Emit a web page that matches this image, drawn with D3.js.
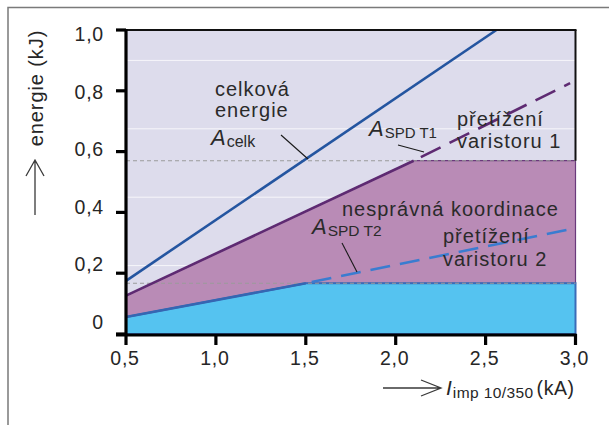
<!DOCTYPE html>
<html>
<head>
<meta charset="utf-8">
<script src="https://cdn.jsdelivr.net/npm/d3@7"></script>
<style>
  html, body { margin: 0; padding: 0; background: #fff; }
  svg { display: block; font-family: "Liberation Sans", Arial, Helvetica, sans-serif; }
</style>
</head>
<body>
<svg id="chart" width="609" height="425"></svg>
<script>
// Axis ticks and labels
const xTicks = [0.5, 1.0, 1.5, 2.0, 2.5, 3.0];
const xTickLabels = ["0,5", "1,0", "1,5", "2,0", "2,5", "3,0"];
const yTicks = [0, 0.2, 0.4, 0.6, 0.8, 1.0];
const yTickLabels = ["0", "0,2", "0,4", "0,6", "0,8", "1,0"];
const gridLevels = [0.225, 0.45, 0.675, 0.9];

// Total energy A_celk (kJ) over impulse current (kA)
const totalI = [0.5, 2.56];
const totalA = [0.175, 1.0];

// Energy absorbed by SPD T1 (capped by varistor 1 rating)
const spdT1I = [0.5, 2.1, 3.0];
const spdT1A = [0.126, 0.57, 0.57];
const overload1I = [2.1, 2.97];
const overload1A = [0.57, 0.825];

// Energy absorbed by SPD T2 (capped by varistor 2 rating)
const spdT2I = [0.5, 1.5, 3.0];
const spdT2A = [0.056, 0.167, 0.167];
const overload2I = [1.5, 3.0];
const overload2A = [0.167, 0.348];

// Varistor energy limits
const limitLevels = [0.167, 0.57];

const pts = (xs, ys) => xs.map((v, i) => [v, ys[i]]);

const svg = d3.select("#chart");
const x = d3.scaleLinear().domain([0.5, 3.0]).range([126, 575.5]);
const y = d3.scaleLinear().domain([0, 1]).range([334, 30]);
const labelY = d3.scaleLinear().domain([0, 1]).range([y(0) - 12, y(1) + 4]);

const line = d3.line().x(d => x(d[0])).y(d => y(d[1]));

// outer frame
svg.append("path")
  .attr("d", "M8,425 L8,7.5 L609,7.5")
  .attr("fill", "none").attr("stroke", "#7a7a7a").attr("stroke-width", 1.5);

// plot background
svg.append("rect")
  .attr("x", x(0.5)).attr("y", y(1))
  .attr("width", x(3.0) - x(0.5)).attr("height", y(0) - y(1))
  .attr("fill", "#dddcec");

// faint grid
svg.append("g").selectAll("line").data(gridLevels).join("line")
  .attr("x1", x(0.5) - 2).attr("x2", x(3.0) + 3)
  .attr("y1", d => y(d)).attr("y2", d => y(d))
  .attr("stroke", "#ffffff").attr("stroke-opacity", 0.75).attr("stroke-width", 1);

// SPD T1 region (between T2 curve and T1 curve)
const t1Poly = pts(spdT1I, spdT1A).concat(pts(spdT2I, spdT2A).reverse());
svg.append("path")
  .attr("d", line(t1Poly) + "Z")
  .attr("fill", "#b98bb6").attr("stroke", "#6a3a7c").attr("stroke-width", 1.2);

// SPD T2 region
const t2Poly = pts(spdT2I, spdT2A).concat([[3.0, 0], [0.5, 0]]);
svg.append("path")
  .attr("d", line(t2Poly) + "Z")
  .attr("fill", "#55c3f0").attr("stroke", "#3a6cb8").attr("stroke-width", 2);

// limit levels
svg.append("g").selectAll("line").data(limitLevels).join("line")
  .attr("x1", x(0.5)).attr("x2", x(3.0))
  .attr("y1", d => y(d)).attr("y2", d => y(d))
  .attr("stroke", "#9a9a9a").attr("stroke-width", 1.1).attr("stroke-dasharray", "4,3");

// rising part of the SPD curves
svg.append("path").attr("d", line(pts(spdT1I, spdT1A).slice(0, 2)))
  .attr("fill", "none").attr("stroke", "#5e2a72").attr("stroke-width", 2.6);
svg.append("path").attr("d", line(pts(spdT2I, spdT2A).slice(0, 2)))
  .attr("fill", "none").attr("stroke", "#3566b2").attr("stroke-width", 2.6);

// overload extensions
svg.append("path").attr("d", line(pts(overload1I, overload1A)))
  .attr("fill", "none").attr("stroke", "#5e2a72").attr("stroke-width", 2.6)
  .attr("stroke-dasharray", "22,10").attr("stroke-dashoffset", -8);
svg.append("path").attr("d", line(pts(overload2I, overload2A)))
  .attr("fill", "none").attr("stroke", "#3a7cd0").attr("stroke-width", 2.6)
  .attr("stroke-dasharray", "20,10").attr("stroke-dashoffset", -6);

// total energy
svg.append("path").attr("d", line(pts(totalI, totalA)))
  .attr("fill", "none").attr("stroke", "#2455a0").attr("stroke-width", 2.6);

// frame: top and right
svg.append("line").attr("x1", x(0.5)).attr("x2", x(3.0) + 1).attr("y1", y(1)).attr("y2", y(1))
  .attr("stroke", "#111").attr("stroke-width", 2);
svg.append("line").attr("x1", x(3.0)).attr("x2", x(3.0)).attr("y1", y(1)).attr("y2", y(0.57))
  .attr("stroke", "#111").attr("stroke-width", 2);

// axes
const axisG = svg.append("g");
axisG.append("line").attr("x1", x(0.5)).attr("x2", x(0.5)).attr("y1", y(1) - 1).attr("y2", y(0) + 2)
  .attr("stroke", "#000").attr("stroke-width", 3.2);
axisG.append("line").attr("x1", x(0.5) - 10).attr("x2", x(3.0) + 1).attr("y1", y(0) + 1).attr("y2", y(0) + 1)
  .attr("stroke", "#000").attr("stroke-width", 3.2);
axisG.selectAll(".yt").data(yTicks).join("line").attr("class", "yt")
  .attr("x1", x(0.5) - 10).attr("x2", x(0.5))
  .attr("y1", d => y(d)).attr("y2", d => y(d))
  .attr("stroke", "#000").attr("stroke-width", 3.2);
axisG.selectAll(".xt").data(xTicks).join("line").attr("class", "xt")
  .attr("x1", d => x(d)).attr("x2", d => x(d))
  .attr("y1", y(0)).attr("y2", y(0) + 11)
  .attr("stroke", "#000").attr("stroke-width", 3.2);

const tickFont = { size: "19.5px", ls: "0.8px", fill: "#262626" };
axisG.selectAll(".yl").data(yTicks).join("text").attr("class", "yl")
  .attr("x", 104).attr("y", d => labelY(d) + 7)
  .attr("text-anchor", "end")
  .attr("font-size", tickFont.size).attr("letter-spacing", tickFont.ls).attr("fill", tickFont.fill)
  .text((d, i) => yTickLabels[i]);
axisG.selectAll(".xl").data(xTicks).join("text").attr("class", "xl")
  .attr("x", d => x(d) - 1).attr("y", 365)
  .attr("text-anchor", "middle")
  .attr("font-size", tickFont.size).attr("letter-spacing", tickFont.ls).attr("fill", tickFont.fill)
  .text((d, i) => xTickLabels[i]);

// axis titles with arrows
const arrowStyle = s => s.attr("fill", "none").attr("stroke", "#3a3a3a").attr("stroke-width", 1.3);
svg.append("path").attr("d", "M35,215 L35,160 M26,176 L35,160 L44,176").call(arrowStyle);
svg.append("text")
  .attr("transform", "translate(43,88) rotate(-90)")
  .attr("text-anchor", "middle").attr("font-size", "20px").attr("letter-spacing", "0.9px").attr("fill", "#262626")
  .text("energie (kJ)");

svg.append("path").attr("d", "M383,388 L441,388 M421,380 L441,388 L421,396").call(arrowStyle);
const xt = svg.append("text").attr("x", 446).attr("y", 395).attr("fill", "#262626").attr("font-size", "21px");
xt.append("tspan").attr("font-style", "italic").text("I");
xt.append("tspan").attr("font-size", "15.5px").attr("dy", 3).attr("dx", 1).attr("letter-spacing", "0.4px").text("imp 10/350");
xt.append("tspan").attr("dy", -3).attr("dx", 3).attr("font-size", "19.5px").attr("letter-spacing", "0.6px").text("(kA)");

// annotations
const ann = svg.append("g").attr("fill", "#2a2a2a").attr("font-size", "20px").attr("letter-spacing", "1px");
const addText = (tx, ty, s) => ann.append("text").attr("x", tx).attr("y", ty).text(s);
const addA = (tx, ty, sub, subSize) => {
  const t = ann.append("text").attr("x", tx).attr("y", ty).attr("letter-spacing", "0px");
  t.append("tspan").attr("font-style", "italic").attr("font-size", "22px").text("A");
  t.append("tspan").attr("font-size", subSize).attr("dy", 2).attr("dx", 1).text(sub);
};

addText(215, 96, "celková");
addText(215, 117, "energie");
addA(211, 145, "celk", "16px");

addA(369, 136, "SPD T1", "15px");
addText(457, 126, "přetížení");
addText(457, 148, "varistoru 1");

addText(342, 216, "nesprávná koordinace");
addA(312, 234, "SPD T2", "15.5px");
addText(443, 243, "přetížení");
addText(443, 266, "varistoru 2");

// leader lines
const leaders = svg.append("g").attr("stroke", "#1a1a1a").attr("stroke-width", 1.1);
leaders.append("line").attr("x1", 281).attr("y1", 135).attr("x2", 308).attr("y2", 159);
leaders.append("line").attr("x1", 398).attr("y1", 145).attr("x2", 424).attr("y2", 152);
leaders.append("line").attr("x1", 342).attr("y1", 243).attr("x2", 357).attr("y2", 272);
</script>
</body>
</html>
